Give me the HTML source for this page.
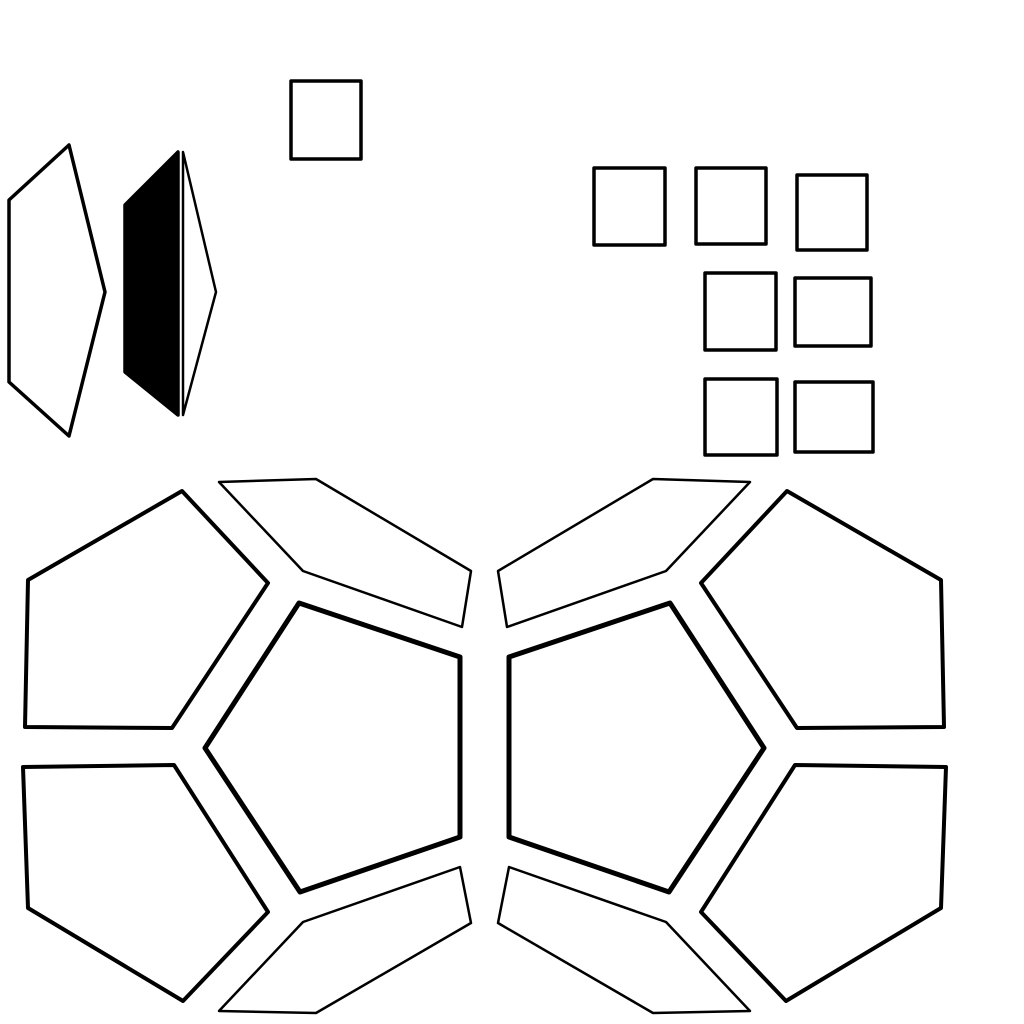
<!DOCTYPE html>
<html><head><meta charset="utf-8"><style>
html,body{margin:0;padding:0;background:#fff;width:1024px;height:1024px;overflow:hidden}
svg{display:block}
</style></head><body>
<svg width="1024" height="1024" viewBox="0 0 1024 1024">
<g fill="#fff" stroke="#000" stroke-width="3.5" stroke-linejoin="round">
  <polygon points="9,200 69,145 105,292 69,436 9,382"/>
  <polygon fill="#000" points="125,205 178,152 178,415 125,372"/>
  <polygon stroke-width="2.5" points="183,152 216,292 183,415"/>
  <rect x="291" y="81" width="70" height="78"/>
  <rect x="594" y="168" width="71" height="77"/>
  <rect x="696" y="168" width="70" height="76"/>
  <rect x="797" y="175" width="70" height="75"/>
  <rect x="705" y="273" width="71" height="77"/>
  <rect x="795" y="278" width="76" height="68"/>
  <rect x="705" y="379" width="72" height="76"/>
  <rect x="795" y="382" width="78" height="70"/>
</g>
<g id="half" fill="#fff" stroke="#000" stroke-linejoin="round">
  <polygon stroke-width="4" points="28,580 182,491 268,583 172,728 25,727"/>
  <polygon stroke-width="2.5" points="219,482 316,479 471,571 462,627 303,571"/>
  <polygon stroke-width="5" points="299,603 460,657 460,837 300,892 205,748"/>
  <polygon stroke-width="4" points="23,767 174,765 268,912 183,1001 28,908"/>
  <polygon stroke-width="2.5" points="303,922 460,867 471,923 316,1013 219,1011"/>
</g>
<use href="#half" transform="translate(969,0) scale(-1,1)"/>
</svg>
</body></html>
